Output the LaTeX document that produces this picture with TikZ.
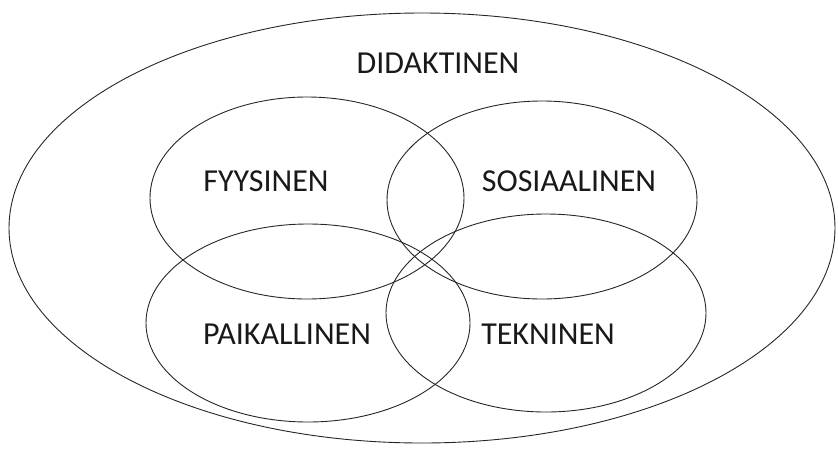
\documentclass[tikz,border=0pt]{standalone}
\usepackage{fontspec}
\setmainfont{Carlito}
\begin{document}
\begin{tikzpicture}[x=1pt,y=-1pt,
  ring/.style={draw=black!85, line width=0.9pt},
  lbl/.style={font=\fontsize{32}{38}\selectfont, text=black!90, inner sep=0pt}]
\useasboundingbox (0,0) rectangle (838,451);
% outer area
\draw[ring] (422,228) ellipse [x radius=413, y radius=215];
% four overlapping areas
\draw[ring] (307,198) ellipse [x radius=157, y radius=101];
\draw[ring] (542,200) ellipse [x radius=155, y radius=99];
\draw[ring] (308,323) ellipse [x radius=162, y radius=99];
\draw[ring] (546,313) ellipse [x radius=160, y radius=99];
% labels
\node[lbl] (did) at (438,63) {DIDAKTINEN};
\node[lbl] (fyy) at (266,181) {FYYSINEN};
\node[lbl] (sos) at (569,181) {SOSIAALINEN};
\node[lbl] (pai) at (287,334) {PAIKALLINEN};
\node[lbl] (tek) at (548,334) {TEKNINEN};
\end{tikzpicture}
\end{document}
